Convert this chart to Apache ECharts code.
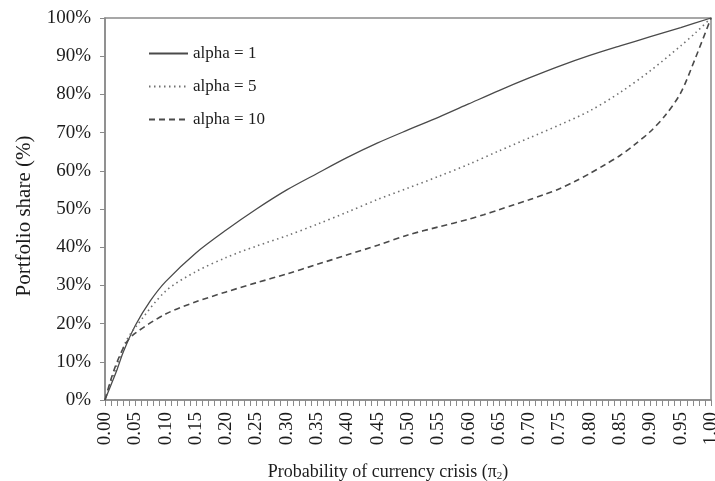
<!DOCTYPE html>
<html>
<head>
<meta charset="utf-8">
<script src="https://cdn.jsdelivr.net/npm/echarts@6/dist/echarts.min.js"></script>
<style>
html,body{margin:0;padding:0;background:#fff;}
#chart{width:715px;height:481px;}
</style>
</head>
<body>
<div id="chart"></div>
<script>
// Probability of currency crisis (x) and portfolio share (%) per series
const alpha1X = [0, 0.01, 0.02, 0.03, 0.05, 0.075, 0.10, 0.15, 0.20, 0.25, 0.30, 0.35, 0.40, 0.45, 0.50, 0.55, 0.60, 0.65, 0.70, 0.75, 0.80, 0.85, 0.90, 0.95, 1.00];
const alpha1Y = [0, 4, 8, 12.5, 19.5, 26, 31, 38.5, 44.5, 50, 55, 59.3, 63.5, 67.3, 70.7, 74, 77.5, 81, 84.3, 87.4, 90.2, 92.7, 95.1, 97.5, 100];

const alpha5X = [0, 0.01, 0.02, 0.035, 0.05, 0.10, 0.15, 0.20, 0.25, 0.30, 0.35, 0.40, 0.45, 0.50, 0.55, 0.60, 0.65, 0.70, 0.75, 0.80, 0.85, 0.90, 0.95, 0.975, 1.00];
const alpha5Y = [0, 5, 9, 15.5, 19, 28.5, 33.6, 37.3, 40.3, 43, 46, 49.2, 52.5, 55.5, 58.5, 61.7, 65.2, 68.6, 72, 75.7, 80.5, 86.2, 92.7, 96.2, 100];

const alpha10X = [0, 0.01, 0.02, 0.035, 0.05, 0.10, 0.15, 0.20, 0.25, 0.30, 0.35, 0.40, 0.45, 0.50, 0.55, 0.60, 0.625, 0.65, 0.675, 0.70, 0.725, 0.75, 0.775, 0.80, 0.825, 0.85, 0.875, 0.90, 0.925, 0.95, 0.975, 1.00];
const alpha10Y = [0, 5.5, 10, 15, 17.5, 22.5, 25.7, 28.3, 30.7, 33, 35.5, 38, 40.5, 43.2, 45.3, 47.3, 48.5, 49.8, 51.1, 52.4, 53.8, 55.3, 57.2, 59.3, 61.6, 64, 67, 70.3, 74.6, 80.4, 89.8, 100];

const seriesNames = ['alpha = 1', 'alpha = 5', 'alpha = 10'];
const yTickLabels = ['0%','10%','20%','30%','40%','50%','60%','70%','80%','90%','100%'];

const pairs = (xs, ys) => xs.map((x, i) => [x, ys[i]]);

const font = 'Liberation Serif, Times New Roman, serif';
const axisColor = '#8a8a8a';
const textColor = '#1c1c1c';

const chart = echarts.init(document.getElementById('chart'));
chart.setOption({
  animation: false,
  backgroundColor: '#fff',
  grid: {
    left: 105, right: 4, top: 18, bottom: 81,
    outerBoundsMode: 'none',
    containLabel: false,
    show: true, borderColor: axisColor, borderWidth: 1.5, backgroundColor: 'transparent'
  },
  legend: {
    data: seriesNames,
    orient: 'vertical',
    left: 143, top: 40,
    itemWidth: 39, itemHeight: 14, itemGap: 16,
    itemStyle: { opacity: 0 },
    textStyle: { fontFamily: font, fontSize: 17, color: textColor }
  },
  xAxis: {
    type: 'value', min: 0, max: 1, interval: 0.05,
    name: '{a|Probability of currency crisis (π}{s|2}{a|)}',
    nameLocation: 'middle', nameGap: 62,
    nameTextStyle: {
      padding: [0, 40, 0, 0],
      rich: {
        a: { fontFamily: font, fontSize: 18, color: textColor },
        s: { fontFamily: font, fontSize: 11, color: textColor, padding: [9,0,0,0] }
      }
    },
    axisLine: { show: true, lineStyle: { color: axisColor, width: 1.5 } },
    axisTick: { show: true, inside: false, length: 6, lineStyle: { color: axisColor } },
    minorTick: { show: true, splitNumber: 5, length: 6, lineStyle: { color: axisColor } },
    splitLine: { show: false },
    axisLabel: {
      rotate: 90, margin: 12,
      fontFamily: font, fontSize: 19, color: textColor,
      formatter: v => v.toFixed(2)
    }
  },
  yAxis: {
    type: 'value', min: 0, max: 100, interval: 10,
    name: 'Portfolio share (%)',
    nameLocation: 'middle', nameGap: 70, nameRotate: 90,
    nameTextStyle: { fontFamily: font, fontSize: 21, color: textColor, padding: [0, 14, 0, 0] },
    axisLine: { show: true, lineStyle: { color: axisColor, width: 1.5 } },
    axisTick: { show: true, inside: false, length: 5, lineStyle: { color: axisColor } },
    splitLine: { show: false },
    axisLabel: {
      fontFamily: font, fontSize: 19, color: textColor, margin: 14,
      formatter: (v) => yTickLabels[Math.round(v / 10)]
    }
  },
  series: [
    {
      name: seriesNames[0], type: 'line', smooth: 0.3, symbol: 'none',
      data: pairs(alpha1X, alpha1Y),
      lineStyle: { color: '#4a4a4a', width: 1.3, type: 'solid' },
      itemStyle: { color: '#4a4a4a' }
    },
    {
      name: seriesNames[1], type: 'line', smooth: 0.3, symbol: 'none',
      data: pairs(alpha5X, alpha5Y),
      lineStyle: { color: '#707070', width: 1.6, type: [1.5, 3.5] },
      itemStyle: { color: '#707070' }
    },
    {
      name: seriesNames[2], type: 'line', smooth: 0.3, symbol: 'none',
      data: pairs(alpha10X, alpha10Y),
      lineStyle: { color: '#4a4a4a', width: 1.6, type: [6, 4] },
      itemStyle: { color: '#4a4a4a' }
    }
  ]
});
</script>
</body>
</html>
